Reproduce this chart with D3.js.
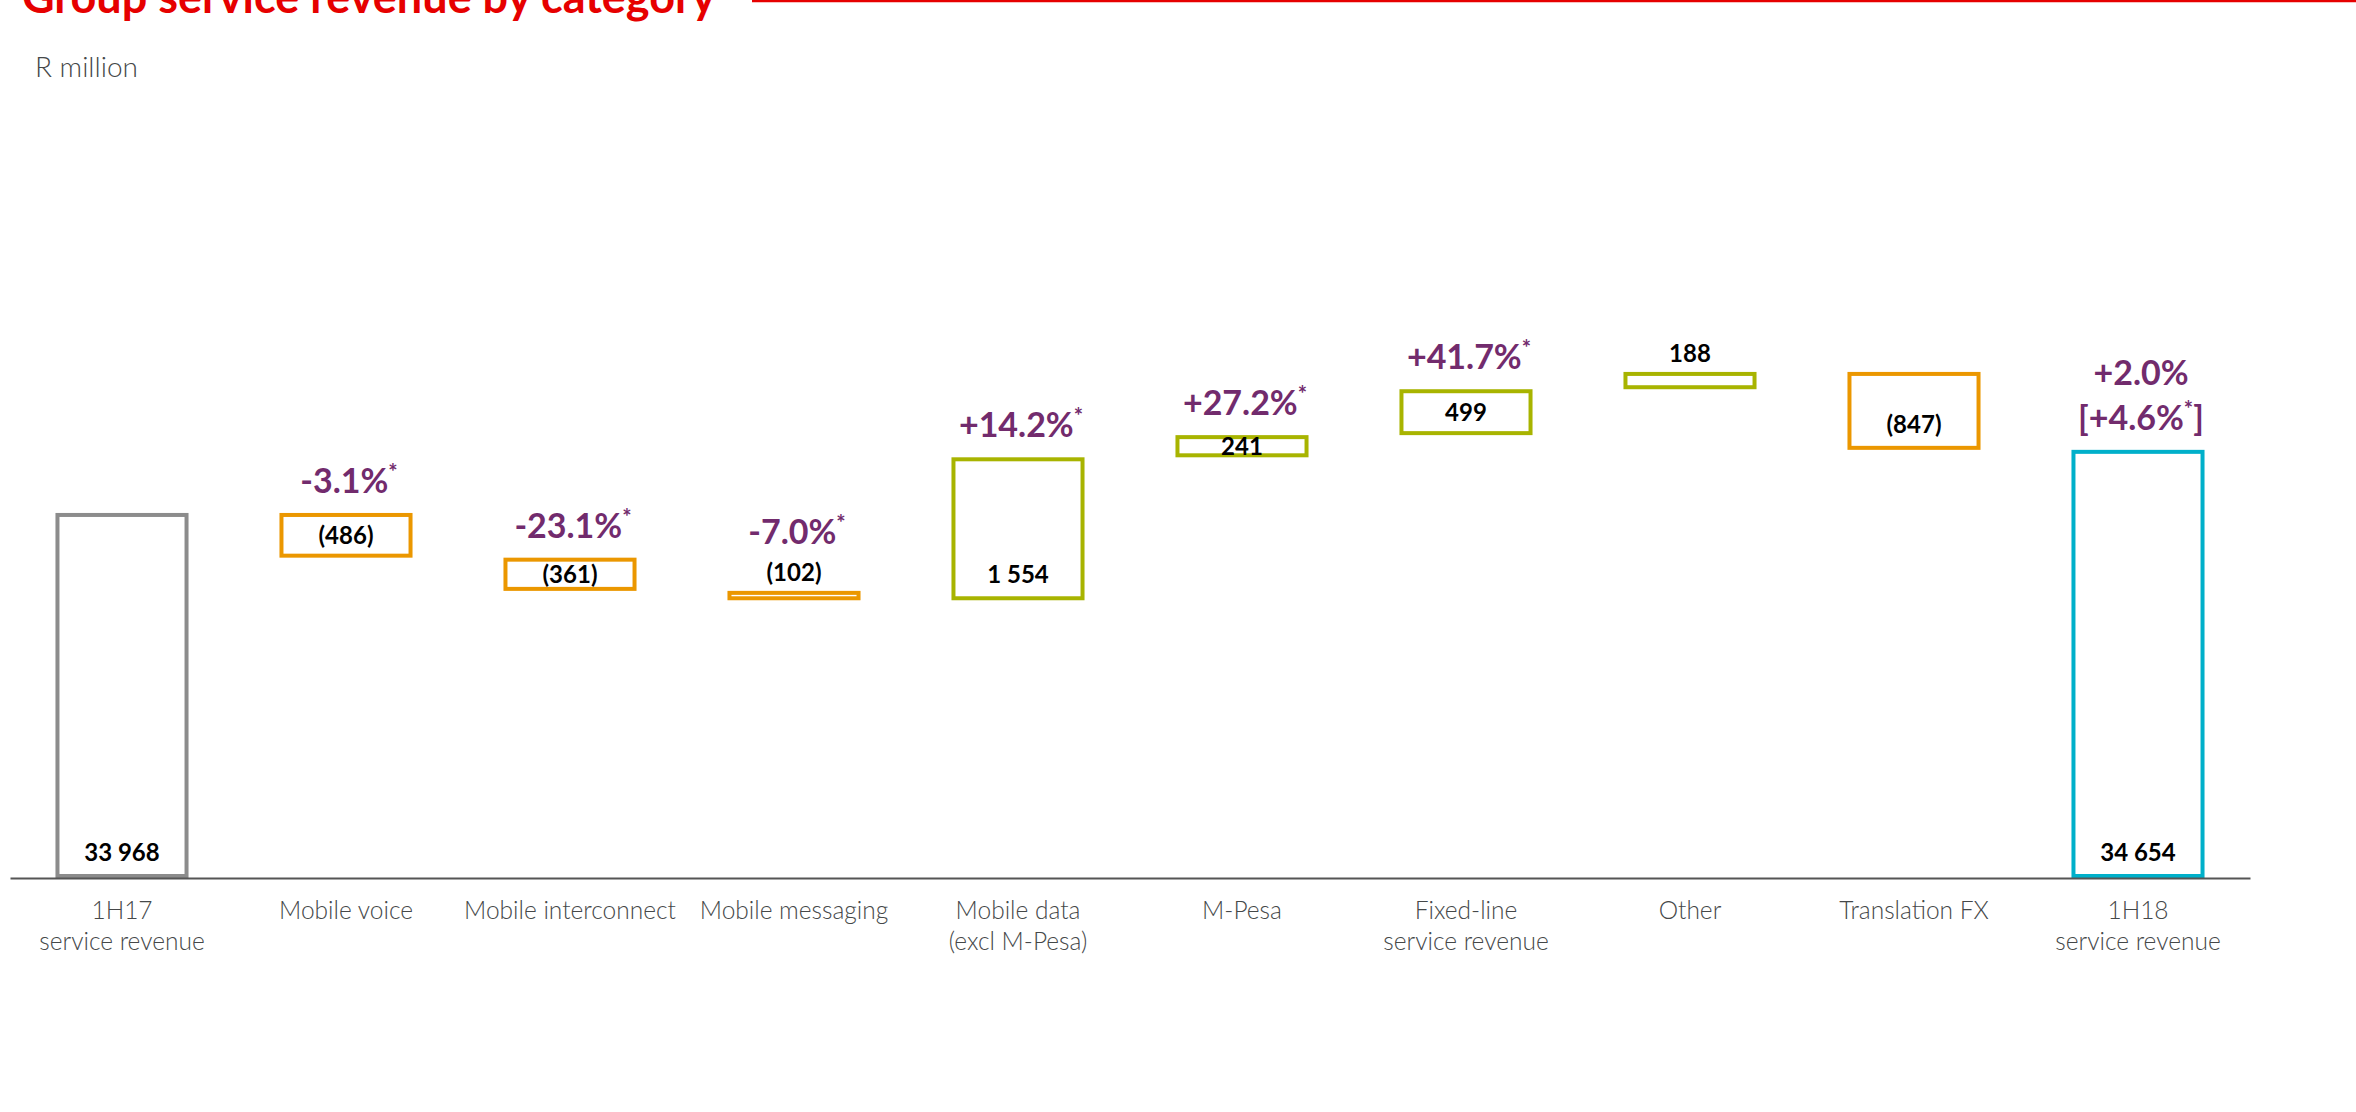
<!DOCTYPE html>
<html>
<head>
<meta charset="utf-8">
<script src="https://cdn.jsdelivr.net/npm/d3@7"></script>
<style>
  body { margin: 0; background: #fff; }
  svg { display: block; }
</style>
</head>
<body>
<svg id="chart" width="2356" height="1112"></svg>
<script>
// Chart values (R million).
var categories = [
    ['1H17', 'service revenue'],
    ['Mobile voice'],
    ['Mobile interconnect'],
    ['Mobile messaging'],
    ['Mobile data', '(excl M-Pesa)'],
    ['M-Pesa'],
    ['Fixed-line', 'service revenue'],
    ['Other'],
    ['Translation FX'],
    ['1H18', 'service revenue']
];
var values = [33968, -486, -361, -102, 1554, 241, 499, 188, -847, 34654];
var isTotal = [true, false, false, false, false, false, false, false, false, true];
var valueLabels = ['33 968', '(486)', '(361)', '(102)', '1 554', '241', '499', '188', '(847)', '34 654'];
// Growth labels, '*' is drawn as a superscript.
var growthLabels = [
    [],
    ['-3.1%*'],
    ['-23.1%*'],
    ['-7.0%*'],
    ['+14.2%*'],
    ['+27.2%*'],
    ['+41.7%*'],
    [],
    [],
    ['+2.0%', '[+4.6%*]']
];
var yTicks = [30000, 36000];

var colors = {
    start: '#8c8c8c',
    end: '#00b0ca',
    up: '#a8b400',
    down: '#eb9700',
    growth: '#722b6d',
    label: '#454849',
    red: '#e60000'
};

var svg = d3.select('#chart');

// Title, cut off at the top edge like the slide it comes from.
svg.append('text')
    .attr('x', 22).attr('y', 13)
    .style('font-family', 'Lato, "Open Sans", sans-serif')
    .style('font-weight', 'bold').style('font-size', '45px')
    .style('fill', colors.red)
    .text('Group service revenue by category');

svg.append('line')
    .attr('x1', 752).attr('x2', 2356)
    .attr('y1', 1).attr('y2', 1)
    .style('stroke', colors.red).style('stroke-width', 2.5);

svg.append('text')
    .attr('x', 35).attr('y', 77)
    .style('font-family', 'Lato, sans-serif')
    .style('font-weight', 300).style('font-size', '28px')
    .style('fill', colors.label)
    .text('R million');

// Running totals for the waterfall.
var bars = [];
var running = 0;
for (var i = 0; i < values.length; i++) {
    var v = values[i];
    if (isTotal[i]) {
        bars.push({ i: i, lo: yTicks[0], hi: v, kind: i === 0 ? 'start' : 'end' });
        running = v;
    } else {
        var next = running + v;
        bars.push({ i: i, lo: Math.min(running, next), hi: Math.max(running, next), kind: v < 0 ? 'down' : 'up' });
        running = next;
    }
}

var x = d3.scaleBand()
    .domain(d3.range(categories.length))
    .range([10, 2250])
    .paddingInner(0.406)
    .paddingOuter(0.203);

var y = d3.scaleLinear()
    .domain(yTicks)
    .range([878, 878 - 6000 / 10.87]);

// Bars drawn as outlined boxes.
var sw = 4;
svg.selectAll('.bar').data(bars)
    .enter().append('rect')
    .attr('class', 'bar')
    .attr('x', function(d) { return x(d.i) + sw / 2; })
    .attr('width', x.bandwidth() - sw)
    .attr('y', function(d) { return y(d.hi) + sw / 2; })
    .attr('height', function(d) { return Math.max(1, y(d.lo) - y(d.hi) - sw); })
    .style('fill', 'white')
    .style('stroke', function(d) { return colors[d.kind]; })
    .style('stroke-width', sw);

// X axis along the baseline; ticks already sit at the band centres.
var axis = svg.append('g')
    .attr('transform', 'translate(0,' + y(yTicks[0]) + ')')
    .call(d3.axisBottom(x).tickSize(0).tickSizeOuter(0).tickFormat(''));
axis.select('.domain').style('stroke', '#555').style('stroke-width', 2);
axis.selectAll('.tick text').remove();
axis.selectAll('.tick').append('text')
    .attr('text-anchor', 'middle')
    .style('font-family', 'Lato, sans-serif')
    .style('font-weight', 300).style('font-size', '24.5px')
    .style('fill', colors.label)
    .each(function(d) {
        var t = d3.select(this);
        categories[d].forEach(function(line, k) {
            t.append('tspan').attr('x', 0).attr('y', 41 + k * 31).text(line);
        });
    });

// Value labels: inside the box near the bottom when tall, centred when medium, above when thin.
var capH = 17;
bars.forEach(function(d) {
    var top = y(d.hi), bottom = y(d.lo), h = bottom - top;
    var base, anchorTop;
    if (h >= 60) { base = bottom - 17; anchorTop = top; }
    else if (h >= 20) { base = (top + bottom) / 2 + capH / 2; anchorTop = top; }
    else { base = top - 10; anchorTop = base - capH; }
    d.labelY = base;
    d.anchorTop = anchorTop;
});

svg.selectAll('.value').data(bars)
    .enter().append('text')
    .attr('class', 'value')
    .attr('text-anchor', 'middle')
    .attr('x', function(d) { return x(d.i) + x.bandwidth() / 2; })
    .attr('y', function(d) { return d.labelY; })
    .style('font-family', 'Lato, sans-serif')
    .style('font-weight', 'bold').style('font-size', '24px')
    .style('fill', '#000')
    .text(function(d) { return valueLabels[d.i]; });

// Growth labels above each box.
bars.forEach(function(d) {
    var lines = growthLabels[d.i];
    lines.forEach(function(line, k) {
        var t = svg.append('text')
            .attr('class', 'growth')
            .attr('text-anchor', 'middle')
            .attr('x', x(d.i) + x.bandwidth() / 2 + 3)
            .attr('y', d.anchorTop - 20 - (lines.length - 1 - k) * 45)
            .style('font-family', 'Lato, sans-serif')
            .style('font-weight', 'bold').style('font-size', '34px')
            .style('fill', colors.growth);
        var parts = line.split('*');
        t.append('tspan').text(parts[0]);
        if (parts.length > 1) {
            t.append('tspan').attr('dy', -13).style('font-size', '22px').text('*');
            if (parts[1]) t.append('tspan').attr('dy', 13).text(parts[1]);
        }
    });
});
</script>
</body>
</html>
